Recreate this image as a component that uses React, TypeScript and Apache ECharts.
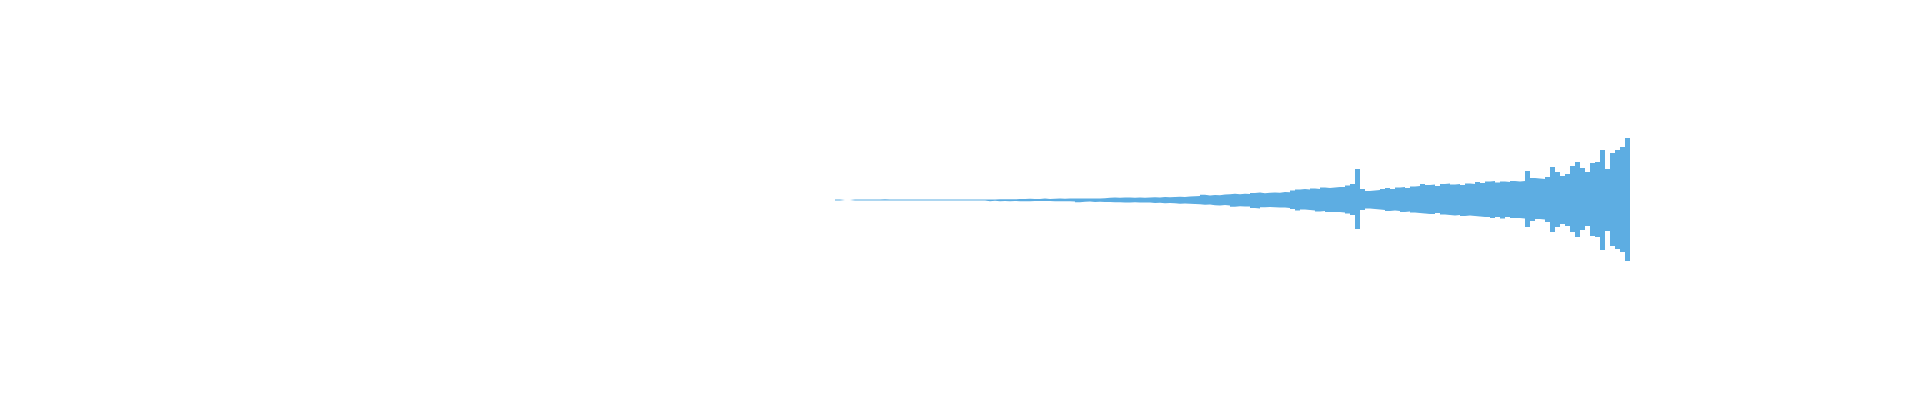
import React, { useEffect, useRef } from "react";
import * as echarts from "echarts";

// Peak amplitude per time bin (normalized, full scale = 1)
const upperPeaks: number[] = [
  0.003, 0, 0, 0.0025, 0.0025, 0.003, 0.003, 0.003, 0.003, 0.0035,
  0.003, 0.003, 0.003, 0.003, 0.003, 0.003, 0.003, 0.003, 0.003, 0.003,
  0.003, 0.003, 0.003, 0.003, 0.003, 0.003, 0.003, 0.003, 0.003, 0.003,
  0.003, 0.003, 0.0035, 0.0035, 0.0035, 0.0035, 0.0045, 0.005, 0.006, 0.005,
  0.005, 0.008, 0.005, 0.006, 0.008, 0.0065, 0.0075, 0.007, 0.008, 0.0075,
  0.008, 0.0075, 0.008, 0.009, 0.011, 0.0125, 0.0115, 0.013, 0.0125, 0.011,
  0.013, 0.0115, 0.0125, 0.014, 0.013, 0.0145, 0.0135, 0.015, 0.016, 0.015,
  0.017, 0.019, 0.02, 0.026, 0.0225, 0.025, 0.024, 0.0275, 0.029, 0.031,
  0.029, 0.031, 0.03, 0.035, 0.0375, 0.034, 0.036, 0.0375, 0.0365, 0.04,
  0.039, 0.0475, 0.0525, 0.055, 0.0525, 0.0575, 0.055, 0.0625, 0.06, 0.0625,
  0.065, 0.065, 0.0725, 0.08, 0.155, 0.055, 0.045, 0.0475, 0.05, 0.055,
  0.06, 0.055, 0.0625, 0.065, 0.06, 0.0675, 0.07, 0.08, 0.075, 0.0775,
  0.07, 0.08, 0.0825, 0.0775, 0.08, 0.075, 0.0825, 0.08, 0.09, 0.085,
  0.0925, 0.095, 0.0875, 0.0925, 0.09, 0.095, 0.0925, 0.095, 0.145, 0.11,
  0.1075, 0.105, 0.115, 0.165, 0.14, 0.12, 0.13, 0.17, 0.19, 0.16,
  0.14, 0.185, 0.19, 0.25, 0.155, 0.235, 0.25, 0.265, 0.31,
];

const lowerPeaks: number[] = [
  0.003, 0, 0, 0.0025, 0.0025, 0.003, 0.003, 0.003, 0.003, 0.003,
  0.003, 0.003, 0.003, 0.003, 0.003, 0.003, 0.003, 0.003, 0.003, 0.003,
  0.003, 0.003, 0.003, 0.003, 0.003, 0.003, 0.003, 0.003, 0.003, 0.003,
  0.006, 0.004, 0.006, 0.005, 0.0065, 0.005, 0.006, 0.0065, 0.006, 0.005,
  0.005, 0.005, 0.0055, 0.006, 0.0065, 0.0065, 0.0065, 0.007, 0.011, 0.009,
  0.008, 0.01, 0.009, 0.0095, 0.01, 0.0115, 0.011, 0.012, 0.0125, 0.0115,
  0.013, 0.012, 0.013, 0.015, 0.014, 0.016, 0.015, 0.0165, 0.019, 0.0175,
  0.0185, 0.02, 0.0215, 0.024, 0.0225, 0.026, 0.0275, 0.025, 0.028, 0.034,
  0.0315, 0.033, 0.0325, 0.04, 0.042, 0.036, 0.035, 0.0365, 0.038, 0.0375,
  0.04, 0.045, 0.0525, 0.0475, 0.05, 0.0525, 0.0575, 0.055, 0.06, 0.06,
  0.06, 0.0625, 0.0675, 0.075, 0.145, 0.05, 0.0425, 0.045, 0.0475, 0.05,
  0.055, 0.0525, 0.055, 0.06, 0.0575, 0.0625, 0.065, 0.0675, 0.07, 0.07,
  0.065, 0.0725, 0.075, 0.0775, 0.075, 0.08, 0.0775, 0.08, 0.0825, 0.085,
  0.085, 0.09, 0.085, 0.0925, 0.085, 0.09, 0.09, 0.0925, 0.135, 0.105,
  0.095, 0.0975, 0.11, 0.16, 0.135, 0.12, 0.13, 0.16, 0.185, 0.15,
  0.13, 0.18, 0.185, 0.25, 0.155, 0.23, 0.245, 0.26, 0.305,
];

const waveColor = "#5DADE2";

function toSteps(vals: number[], sign: number): number[][] {
  const pts = vals.map((v, i) => [i, sign * v]);
  pts.push([vals.length, sign * vals[vals.length - 1]]);
  return pts;
}

export default function App() {
  const ref = useRef<HTMLDivElement>(null);

  useEffect(() => {
    const chart = echarts.init(ref.current!, null, { renderer: "svg" });
    const common = {
      type: "line",
      step: "end",
      showSymbol: false,
      symbol: "none",
      silent: true,
      lineStyle: { width: 0, color: waveColor },
      areaStyle: { color: waveColor, opacity: 1 },
    };
    chart.setOption({
      animation: false,
      backgroundColor: "#ffffff",
      grid: { left: 835, width: 795, top: 0, bottom: 0 },
      xAxis: { type: "value", min: 0, max: upperPeaks.length, show: false },
      yAxis: { type: "value", min: -1, max: 1, show: false },
      series: [
        { ...common, name: "upper", data: toSteps(upperPeaks, 1) },
        { ...common, name: "lower", data: toSteps(lowerPeaks, -1) },
      ],
    });
    return () => chart.dispose();
  }, []);

  return (
    <div
      ref={ref}
      style={{ position: "fixed", left: 0, top: 0, width: 1920, height: 400 }}
    />
  );
}
